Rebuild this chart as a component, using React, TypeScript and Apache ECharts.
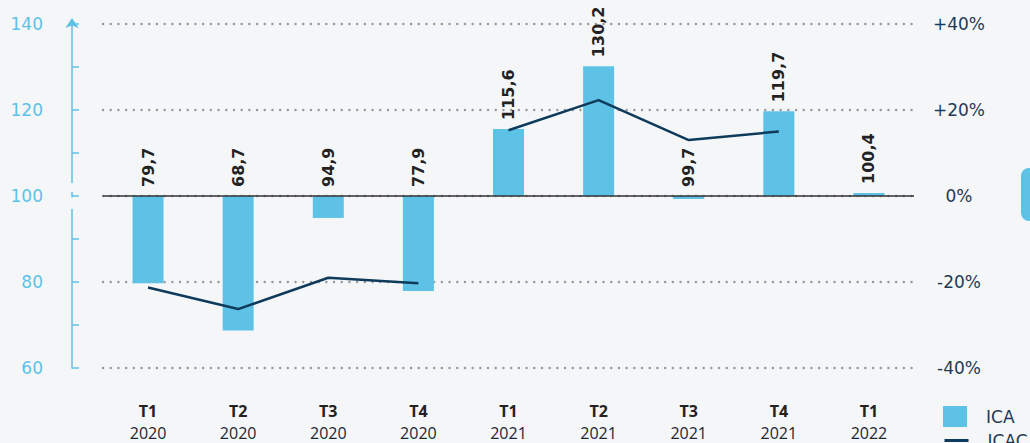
import React, { useEffect, useRef } from "react";
import * as echarts from "echarts";

const quarters = ["T1", "T2", "T3", "T4", "T1", "T2", "T3", "T4", "T1"];
const years = ["2020", "2020", "2020", "2020", "2021", "2021", "2021", "2021", "2022"];
const icaValues = [79.7, 68.7, 94.9, 77.9, 115.6, 130.2, 99.7, 119.7, 100.4];
const icacPct2020 = [-21.3, -26.3, -19.0, -20.3, null, null, null, null, null];
const icacPct2021 = [null, null, null, null, 15.3, 22.3, 13.0, 15.0, null];
const leftTicks = [60, 140, 20];
const rightTicks = [-40, 40, 20];

const BG = "#f5f6f8";
const BAR = "#5ec2e6";
const NAVY = "#0e3b5c";
const FONT = "'Open Sans', Lato, sans-serif";
const WIDE = "'DejaVu Sans', sans-serif";

export default function App() {
  const ref = useRef<HTMLDivElement>(null);
  useEffect(() => {
    document.body.style.margin = "0";
    document.body.style.background = BG;
    const chart = echarts.init(ref.current!, null, { renderer: "svg" });
    const categories = quarters.map((q, i) => `{q|${q}}\n{y|${years[i]}}`);
    const legendText = { color: "#1e3a56", fontSize: 17, fontFamily: WIDE, padding: [0, 0, 0, 14] };
    chart.setOption({
      animation: false,
      backgroundColor: BG,
      textStyle: { fontFamily: FONT },
      grid: { left: 103, right: 116, top: 24, bottom: 75 },
      legend: [
        {
          left: 938,
          top: 401,
          itemWidth: 24,
          itemHeight: 21,
          textStyle: legendText,
          data: [{ name: "ICA", icon: "rect" }],
        },
        {
          left: 938,
          top: 427,
          itemWidth: 24,
          itemHeight: 21,
          textStyle: legendText,
          itemStyle: { opacity: 0 },
          lineStyle: { width: 3, color: NAVY },
          data: [{ name: "ICAC" }],
        },
      ],
      xAxis: {
        type: "category",
        data: categories,
        axisLine: { show: false },
        axisTick: { show: false },
        axisLabel: {
          margin: 32,
          interval: 0,
          rich: {
            q: { fontWeight: "bold", fontSize: 16, color: "#222", lineHeight: 22, fontFamily: FONT },
            y: { fontSize: 16, color: "#1e2533", lineHeight: 22, fontFamily: FONT },
          },
        },
      },
      yAxis: [
        {
          type: "value",
          min: leftTicks[0],
          max: leftTicks[1],
          interval: leftTicks[2],
          position: "left",
          offset: 31,
          axisLine: {
            show: true,
            symbol: ["none", "arrow"],
            symbolSize: [10, 10],
            symbolOffset: [0, 6],
            lineStyle: { color: BAR, width: 1.5 },
          },
          axisTick: { show: true, inside: true, length: 7, lineStyle: { color: BAR, width: 1.5 } },
          minorTick: { show: true, splitNumber: 2, length: 7, lineStyle: { color: BAR, width: 1.5 } },
          axisLabel: { color: BAR, fontSize: 17, margin: 29, fontFamily: WIDE },
          splitLine: {
            show: true,
            lineStyle: { color: "#999", type: [0.1, 7.6], width: 2.4, cap: "round" },
          },
        },
        {
          type: "value",
          min: rightTicks[0],
          max: rightTicks[1],
          interval: rightTicks[2],
          position: "right",
          axisLine: { show: false },
          axisTick: { show: false },
          splitLine: { show: false },
          axisLabel: {
            color: "#1e3a56",
            fontSize: 17,
            margin: 45,
            align: "center",
            fontFamily: WIDE,
            formatter: (v: number) => (v > 0 ? `+${v}%` : `${v}%`),
          },
        },
      ],
      series: [
        {
          name: "ICA",
          type: "bar",
          yAxisIndex: 1,
          barWidth: 31,
          barMinHeight: 3,
          itemStyle: { color: BAR },
          data: icaValues.map((v) => +(v - 100).toFixed(1)),
          label: {
            show: true,
            position: "top",
            rotate: 90,
            align: "left",
            verticalAlign: "middle",
            distance: 9,
            fontSize: 16,
            fontWeight: "bold",
            color: "#222",
            fontFamily: WIDE,
            formatter: (p: any) => icaValues[p.dataIndex].toFixed(1).replace(".", ","),
          },
          markLine: {
            silent: true,
            symbol: "none",
            label: { show: false },
            lineStyle: { color: "#333", type: "solid", width: 1.5 },
            data: [{ yAxis: 0 }],
          },
          z: 3,
        },
        {
          name: "ICAC",
          type: "line",
          yAxisIndex: 1,
          data: icacPct2020,
          symbol: "none",
          showSymbol: false,
          lineStyle: { color: NAVY, width: 2.5 },
          itemStyle: { color: NAVY },
          z: 4,
        },
        {
          name: "ICAC",
          type: "line",
          yAxisIndex: 1,
          data: icacPct2021,
          symbol: "none",
          showSymbol: false,
          lineStyle: { color: NAVY, width: 2.5 },
          itemStyle: { color: NAVY },
          z: 4,
        },
      ],
    });
    // axis break around 100 on the left axis
    const ax = 72;
    const yTop = chart.convertToPixel({ yAxisIndex: 0 }, 103) as number;
    const y100 = chart.convertToPixel({ yAxisIndex: 0 }, 100) as number;
    const yBot = chart.convertToPixel({ yAxisIndex: 0 }, 97) as number;
    chart.setOption({
      graphic: [
        { type: "rect", shape: { x: ax - 3, y: yTop, width: 6, height: y100 - 4 - yTop }, style: { fill: BG }, z: 100 },
        { type: "rect", shape: { x: ax - 3, y: y100 + 1.5, width: 6, height: yBot - y100 - 1.5 }, style: { fill: BG }, z: 100 },
        { type: "rect", shape: { x: 1021, y: 168, width: 30, height: 53, r: 8 }, style: { fill: BAR }, z: 100 },
      ],
    });
    return () => chart.dispose();
  }, []);
  return <div ref={ref} style={{ position: "absolute", left: 0, top: 0, width: 1030, height: 443 }} />;
}
